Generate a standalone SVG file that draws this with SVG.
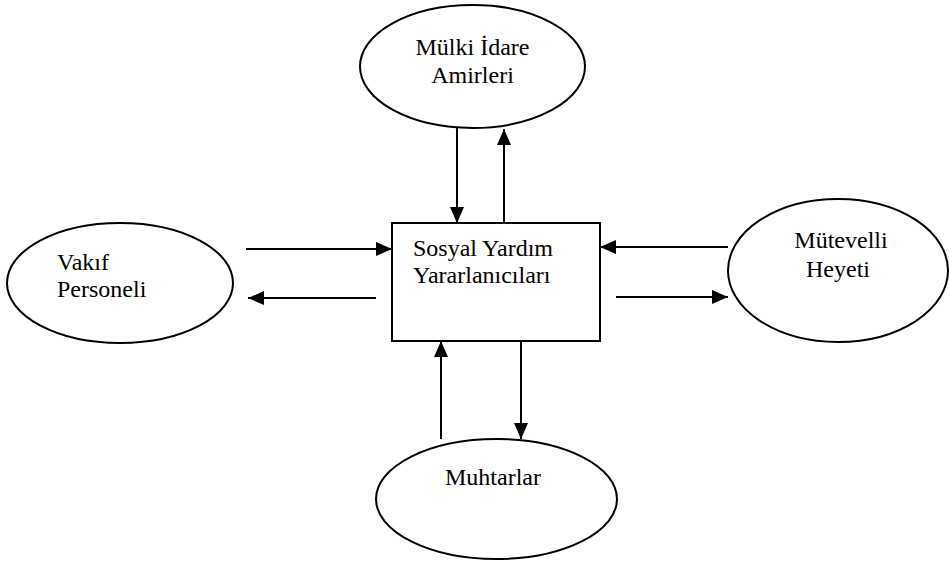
<svg xmlns="http://www.w3.org/2000/svg" width="949" height="561" viewBox="0 0 949 561">
<style>
.shape{fill:#fff;stroke:#000;stroke-width:2}
.lbl{font-family:"Liberation Serif","Times New Roman",serif;font-size:24px;fill:#000}
.mid{text-anchor:middle}
.conn{stroke:#000;stroke-width:2;fill:none;marker-end:url(#ah)}
</style>
<defs>
<marker id="ah" markerUnits="userSpaceOnUse" markerWidth="16" markerHeight="14" refX="16" refY="7" orient="auto">
<path d="M0,0 L16,7 L0,14 z" fill="#000"/>
</marker>
</defs>
<rect width="949" height="561" fill="#fff"/>
<g id="mulki-idare">
<ellipse class="shape" cx="472.5" cy="66.5" rx="112.5" ry="61.5"/>
<text class="lbl mid" x="472.5" y="55">Mülki İdare</text>
<text class="lbl mid" x="472.5" y="83">Amirleri</text>
</g>
<g id="vakif-personeli">
<ellipse class="shape" cx="120" cy="283" rx="113" ry="60"/>
<text class="lbl" x="57" y="270">Vakıf</text>
<text class="lbl" x="57" y="297">Personeli</text>
</g>
<g id="sosyal-yardim">
<rect class="shape" x="392" y="223" width="208" height="118"/>
<text class="lbl" x="413" y="256">Sosyal Yardım</text>
<text class="lbl" x="413" y="283">Yararlanıcıları</text>
</g>
<g id="mutevelli-heyeti">
<ellipse class="shape" cx="838" cy="270.5" rx="110" ry="71.5"/>
<text class="lbl mid" x="841" y="248">Mütevelli</text>
<text class="lbl mid" x="838" y="277">Heyeti</text>
</g>
<g id="muhtarlar">
<ellipse class="shape" cx="496.5" cy="499" rx="120.5" ry="60"/>
<text class="lbl mid" x="493" y="485">Muhtarlar</text>
</g>
<g id="connectors">
<line class="conn" x1="457" y1="128" x2="457" y2="223"/>
<line class="conn" x1="504" y1="223" x2="504" y2="129"/>
<line class="conn" x1="246" y1="249" x2="392" y2="249"/>
<line class="conn" x1="376" y1="298" x2="248" y2="298"/>
<line class="conn" x1="728" y1="247" x2="600" y2="247"/>
<line class="conn" x1="616" y1="297" x2="728" y2="297"/>
<line class="conn" x1="441" y1="439" x2="441" y2="341"/>
<line class="conn" x1="521" y1="341" x2="521" y2="439"/>
</g>
</svg>
